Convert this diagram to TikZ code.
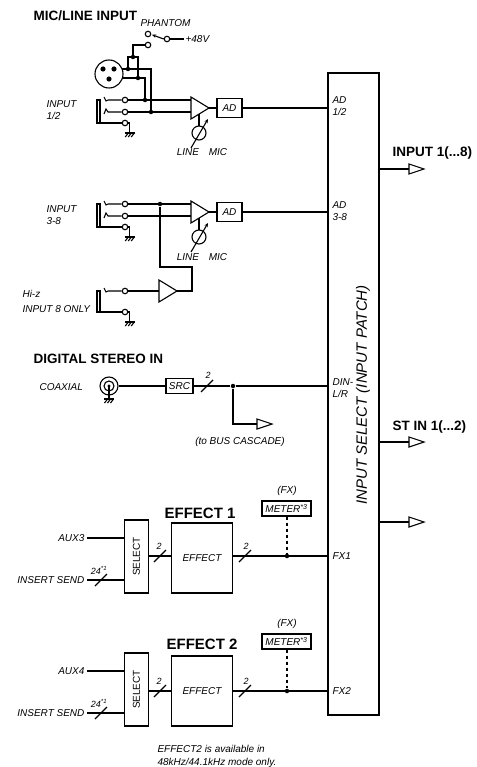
\documentclass[tikz,border=0pt]{standalone}
\usepackage{fontspec}
\setmainfont{Liberation Sans}
\usetikzlibrary{arrows.meta,positioning}
\tikzset{every path/.style={line width=1.1pt},
  lbl/.style={font=\fontsize{10}{12}\selectfont\itshape, inner sep=0pt},
  small/.style={font=\fontsize{9}{10}\selectfont\itshape, inner sep=0pt},
  head/.style={font=\fontsize{13.5}{16}\selectfont\bfseries, inner sep=0pt},
  fxhead/.style={font=\fontsize{15}{18}\selectfont\bfseries, inner sep=0pt},
  blk/.style={draw, inner sep=0pt, font=\fontsize{10}{12}\selectfont\itshape},
  term/.style={circle, draw, fill=white, inner sep=0pt, minimum size=5.5pt},
  jdot/.style={circle, fill, inner sep=0pt, minimum size=4.5pt},
  gnd/.pic={\draw (-5,0) -- (5,0); \foreach \k in {-3,0,3} \draw (\k+1.5,0) -- (\k-1.5,4);},
  amp/.pic={\draw (0,-11) -- (18,0) -- (0,11) -- cycle;},
  outarr/.pic={\draw (0,-5) -- (15,0) -- (0,5) -- cycle;},
  bus/.pic={\draw (-6,6) -- (6,-6);}}

\begin{document}
\begin{tikzpicture}[x=1pt,y=-1pt]
   \useasboundingbox (0,0) rectangle (476,767);
   \node[head, anchor=base west] (hmic) at (33,21) {MIC/LINE INPUT};
   \node[head, anchor=base west] (hdig) at (33,363) {DIGITAL STEREO IN};
   \node[fxhead, anchor=base] (hfx1) at (200,518) {EFFECT 1};
   \node[fxhead, anchor=base] (hfx2) at (202,649) {EFFECT 2};

   \node[draw, minimum width=51pt, minimum height=642pt, inner sep=0pt] (insel) at (353.5,394) {};
   \node[font=\fontsize{15}{18}\selectfont\itshape, inner sep=0pt, rotate=90] (inseltxt) at (363,395) {INPUT SELECT (INPUT PATCH)};
   \foreach \y/\nm in {169/o1,442/o2,522/o3} {
     \coordinate (\nm) at (409,\y);
     \draw (insel.east |- \nm) -- (\nm);
     \pic at (\nm) {outarr};
   }
   \node[head, anchor=base west] at (392,157) {INPUT 1(...8)};
   \node[head, anchor=base west] at (392,430) {ST IN 1(...2)};

   \node[lbl, anchor=base west] at (332,104) {AD};
   \node[lbl, anchor=base west] at (332,116) {1/2};
   \node[lbl, anchor=base west] at (332,208) {AD};
   \node[lbl, anchor=base west] at (332,220) {3-8};
   \node[lbl, anchor=base west] at (332,385) {DIN-};
   \node[lbl, anchor=base west] at (332,397) {L/R};
   \node[lbl, anchor=base west] at (332,559.5) {FX1};
   \node[lbl, anchor=base west] at (332,694.5) {FX2};

   \begin{scope}
    \node[lbl, anchor=base west] (phtxt) at (140,27) {PHANTOM};
    \node[term] (ph1) at (148,34) {};
    \node[term] (ph2) at (148,45) {};
    \node[term] (ph0) at (167,39) {};
    \node[lbl, anchor=base west] (p48) at (185,43) {+48V};
    \draw (ph0.east) -- ++(14,0);
    \draw[-{Stealth[length=4pt,width=3.5pt]}] (ph0.west) -- (152,34.8);
    \draw (ph2.west) -| (133,57) node[jdot] (pj) {};
    \draw (128,69) |- (138,57) -- (138,78);
    \node[draw, circle, minimum size=28pt, inner sep=0pt] (xlr) at (109,74) {};
    \foreach \p in {(103,69),(114,69),(109,79)} \fill \p circle (2.6);
    \draw (122,69) -| (151,112);
    \draw (122.4,78) -| (145,100);
    \node[jdot] (d1) at (128,69) {};
    \node[jdot] (d2) at (138,78) {};
    \node[jdot] (d3) at (145,100) {};
    \node[jdot] (d4) at (151,112) {};
   \end{scope}

   \foreach \i/\dy in {1/0,2/104} {
     \draw (97,100+\dy) rectangle (100,123+\dy);
     \node[term] (t\i) at (125,100+\dy) {};
     \node[term] (r\i) at (125,112+\dy) {};
     \node[term] (s\i) at (125,123+\dy) {};
     \draw (104,97+\dy) -- (106,101+\dy) -- (108,100+\dy) -- (t\i);
     \draw (104,114+\dy) -- (106,109+\dy) -- (108,112+\dy) -- (r\i);
     \draw (100,123+\dy) -- (s\i);
     \draw (s\i.east) -- ++(1.5,0) -- ++(0,10) pic {gnd};
     \pic at (191,108+\dy) {amp};
     \draw (t\i) -- (191,100+\dy);
     \draw (r\i) -- (191,112+\dy);
     \node[blk, minimum width=25pt, minimum height=19pt] (ad\i) at (229.5,108+\dy) {AD};
     \draw (209,108+\dy) -- (ad\i);
     \draw (ad\i) -- (insel.west |- ad\i);
     \draw (199,114+\dy) -- (199,126+\dy);
     \node[draw, circle, minimum size=14pt, inner sep=0pt] (pot\i) at (199,133+\dy) {};
     \draw[-{Stealth[length=4pt,width=3.5pt]}] (191,148+\dy) -- (208,119+\dy);
     \node[lbl, anchor=base] at (188,156+\dy) {LINE};
     \node[lbl, anchor=base] at (218,156+\dy) {MIC};
   }
   \node[lbl, anchor=base west] at (46,108) {INPUT};
   \node[lbl, anchor=base west] at (46,119.5) {1/2};
   \node[lbl, anchor=base west] at (46,212) {INPUT};
   \node[lbl, anchor=base west] at (46,224) {3-8};

   \node[jdot] (hz) at (160,204) {};
   \draw (hz) -- (160,267) -| (192,291) -- (177,291);
   \pic at (159,291) {amp};
   \draw (97,291) rectangle (100,312);
   \node[term] (t3) at (125,291) {};
   \node[term] (s3) at (125,312) {};
   \draw (104,288) -- (106,292) -- (108,291) -- (t3);
   \draw (t3) -- (159,291);
   \draw (100,312) -- (s3);
   \draw (s3.east) -- ++(1.5,0) -- ++(0,10) pic {gnd};
   \node[lbl, anchor=base west] at (22,297) {Hi-z};
   \node[lbl, anchor=base west] at (22,312) {INPUT 8 ONLY};

   \node[lbl, anchor=base west] at (39,390) {COAXIAL};
   \node[draw, circle, minimum size=18pt, inner sep=0pt] (coax) at (109,386) {};
   \draw (109,386) circle (5);
   \fill (109,386) circle (1.6);
   \draw (109,386) -- (109,399) pic {gnd};
   \node[blk, minimum width=27pt, minimum height=15pt] (src) at (179.5,386) {SRC};
   \node[jdot] (dd) at (233,386) {};
   \draw (coax) -- (src);
   \draw (src) -- (dd) -- (insel.west |- dd);
   \pic at (207,386) {bus};
   \node[small] at (208,375) {2};
   \coordinate (cas) at (257,424);
   \draw (dd) |- (cas);
   \pic at (cas) {outarr};
   \node[lbl, anchor=base] at (240,444) {(to BUS CASCADE)};

   \foreach \i/\dy/\ly/\aux in {1/0/556/3,2/133/691/4} {
     \node[draw, minimum width=24pt, minimum height=73pt, inner sep=0pt] (sel\i) at (136.5,556.5+\dy) {};
     \node[font=\fontsize{10}{12}\selectfont, inner sep=0pt, rotate=90] at (sel\i) {SELECT};
     \node[blk, minimum width=61pt, minimum height=70pt] (fx\i) at (202,558+\dy) {EFFECT};
     \node[jdot] (m\i) at (287,\ly) {};
     \node[lbl, anchor=east] (aux\i) at (85,538+\dy) {AUX\aux};
     \draw ([xshift=2pt]aux\i.east) -- (sel\i.west |- aux\i);
     \node[lbl, anchor=east] (ins\i) at (85,580+\dy) {INSERT SEND};
     \draw ([xshift=2pt]ins\i.east) -- (sel\i.west |- ins\i);
     \pic at (101,580+\dy) {bus};
     \node[small, anchor=base] at (99,574+\dy) {24\textsuperscript{*1}};
     \draw (sel\i.east |- m\i) -- (fx\i.west |- m\i);
     \pic at (160,\ly) {bus};
     \node[small] at (159,\ly-10) {2};
     \draw (fx\i.east |- m\i) -- (insel.west |- m\i);
     \pic at (245,\ly) {bus};
     \node[small] at (246,\ly-10) {2};
     \node[blk, minimum width=49pt, minimum height=15pt] (met\i) at (286.5,508.5+\dy) {METER\textsuperscript{*3}};
     \draw[dashed] (met\i.south -| m\i) -- (m\i);
     \node[lbl] at (287,491+\dy) {(FX)};
   }
   \node[lbl, anchor=base west] at (157,752) {EFFECT2 is available in};
   \node[lbl, anchor=base west] at (157,765) {48kHz/44.1kHz mode only.};
  \end{tikzpicture}
\end{document}
